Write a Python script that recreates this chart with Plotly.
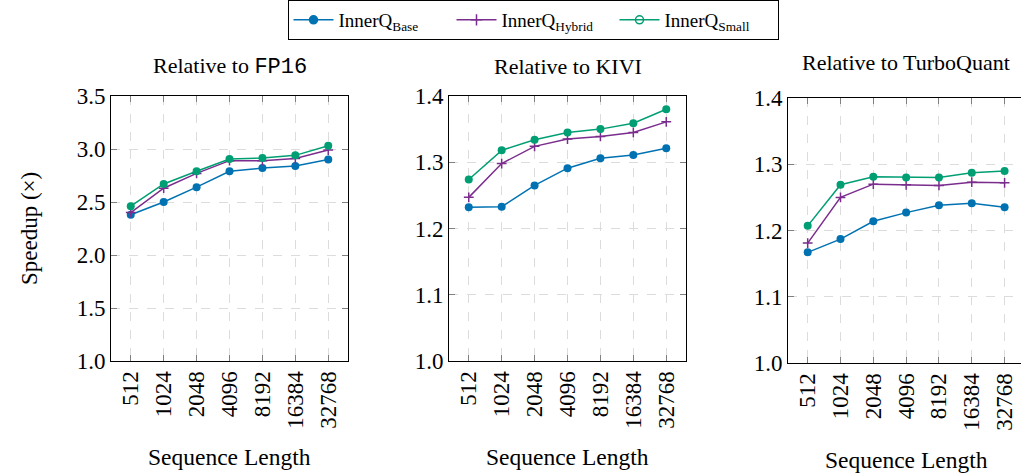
import plotly.graph_objects as go

seq_lengths = ["512", "1024", "2048", "4096", "8192", "16384", "32768"]

fp16_base = [2.38, 2.50, 2.64, 2.79, 2.82, 2.84, 2.90]
fp16_hybrid = [2.40, 2.63, 2.77, 2.89, 2.89, 2.91, 2.99]
fp16_small = [2.46, 2.67, 2.79, 2.906, 2.915, 2.94, 3.03]

kivi_base = [1.232, 1.233, 1.265, 1.291, 1.306, 1.311, 1.321]
kivi_hybrid = [1.247, 1.298, 1.324, 1.335, 1.339, 1.345, 1.361]
kivi_small = [1.274, 1.318, 1.334, 1.345, 1.350, 1.359, 1.380]

tq_base = [1.167, 1.187, 1.214, 1.227, 1.238, 1.241, 1.235]
tq_hybrid = [1.181, 1.250, 1.270, 1.269, 1.268, 1.273, 1.272]
tq_small = [1.207, 1.269, 1.281, 1.280, 1.280, 1.287, 1.290]

series_names = ["InnerQ<sub>Base</sub>", "InnerQ<sub>Hybrid</sub>", "InnerQ<sub>Small</sub>"]
colors = ["#0072B2", "#7B2D8E", "#009E73"]
symbols = ["circle", "cross-thin", "circle"]
legend_symbols = ["circle", "cross-thin", "circle-open"]

panels = [
    ("Relative to <span style=\"font-family:'Liberation Mono'\">FP16</span>",
     [fp16_base, fp16_hybrid, fp16_small], [1.0, 3.5], 0.5),
    ("Relative to KIVI", [kivi_base, kivi_hybrid, kivi_small], [1.0, 1.4], 0.1),
    ("Relative to TurboQuant", [tq_base, tq_hybrid, tq_small], [1.0, 1.4], 0.1),
]

W, H = 1021, 473
x_dom_px = [(111, 348), (449, 686), (788, 1021)]
y_dom_px = [(96, 361), (96, 361), (98, 363)]
x_ranges = [[-0.6, 6.6], [-0.6, 6.6], [-0.6, 6.5]]

FONT = "Liberation Serif"
fig = go.Figure()

for i, (title, data, yr, dt) in enumerate(panels):
    ax = "" if i == 0 else str(i + 1)
    for j, vals in enumerate(data):
        fig.add_trace(go.Scatter(
            x=seq_lengths, y=vals, mode="lines+markers",
            xaxis="x" + ax, yaxis="y" + ax,
            line=dict(color=colors[j], width=1.5),
            marker=dict(symbol=symbols[j], size=8 if symbols[j] == "circle" else 7,
                        color=colors[j],
                        line=dict(color=colors[j], width=1.5 if j == 1 else 0)),
            showlegend=False, name=series_names[j],
        ))
    x0, x1 = x_dom_px[i]
    yt, yb = y_dom_px[i]
    common = dict(showline=True, linecolor="black", linewidth=1,
                  ticks="inside", ticklen=6, tickcolor="#808080", tickwidth=1,
                  showgrid=True, gridcolor="#dcdcdc", griddash="dash", gridwidth=1,
                  zeroline=False, automargin=False,
                  tickfont=dict(family=FONT, size=23, color="black"))
    fig.layout["xaxis" + ax] = dict(
        domain=[x0 / W, x1 / W], anchor="y" + ax, type="category",
        range=x_ranges[i], tickangle=-90, mirror="ticks",
        **common)
    fig.layout["yaxis" + ax] = dict(
        domain=[1 - yb / H, 1 - yt / H], anchor="x" + ax,
        range=yr, dtick=dt, tick0=1.0, tickformat=".1f",
        mirror="ticks" if i < 2 else False,
        **common)
    fig.add_annotation(
        x=(x0 + (x1 if i < 2 else 1024)) / 2 / W, y=1 - (66 if i < 2 else 63) / H,
        xref="paper", yref="paper", text=title, showarrow=False,
        font=dict(family=FONT, size=22, color="black"), xanchor="center", yanchor="middle")
    fig.add_annotation(
        x=(x0 + (x1 if i < 2 else 1024)) / 2 / W, y=1 - (457 if i < 2 else 460) / H,
        xref="paper", yref="paper", text="Sequence Length", showarrow=False,
        font=dict(family=FONT, size=23.5, color="black"), xanchor="center", yanchor="middle")

fig.add_annotation(
    x=30 / W, y=1 - 229 / H, xref="paper", yref="paper", text="Speedup (×)",
    textangle=-90, showarrow=False,
    font=dict(family=FONT, size=23, color="black"), xanchor="center", yanchor="middle")

for j in range(3):
    fig.add_trace(go.Scatter(
        x=[None], y=[None], mode="lines+markers", name=series_names[j],
        line=dict(color=colors[j], width=1.5),
        marker=dict(symbol=legend_symbols[j], size=8, color=colors[j],
                    line=dict(color=colors[j], width=1.5)),
        showlegend=True,
    ))

fig.update_layout(
    width=W, height=H, margin=dict(l=0, r=0, t=0, b=0),
    paper_bgcolor="white", plot_bgcolor="white",
    legend=dict(orientation="h", x=533 / W, y=1.0, xanchor="center", yanchor="top",
                bordercolor="black", borderwidth=1, bgcolor="white",
                font=dict(family=FONT, size=19, color="black"),
                itemwidth=40, tracegroupgap=0, entrywidth=108),
)

fig.write_html("out.html", config={"displayModeBar": False},
               post_script="document.body.style.margin='0';")
